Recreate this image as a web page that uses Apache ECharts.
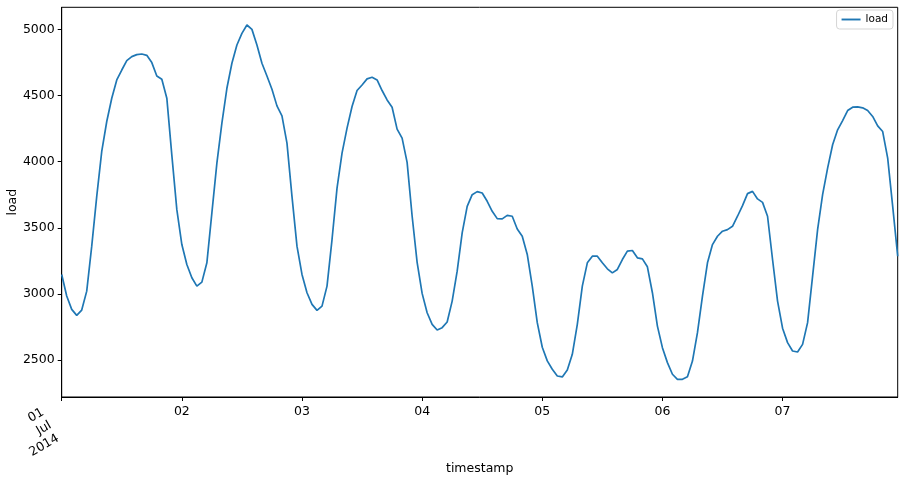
<!DOCTYPE html>
<html>
<head>
<meta charset="utf-8">
<script src="https://cdn.jsdelivr.net/npm/echarts@6/dist/echarts.min.js"></script>
<style>html,body{margin:0;padding:0;background:#fff}#c{width:905px;height:482px}</style>
</head>
<body>
<div id="c"></div>
<script>
// Hourly load, 01 Jul 2014 00:00 .. 07 Jul 2014 23:00
const day1 = [3148,2985,2884,2839,2879,3022,3362,3738,4078,4304,4480,4618,4693,4764,4794,4809,4814,4804,4749,4648,4623,4480,4050,3638];
const day2 = [3374,3223,3123,3060,3090,3236,3613,3990,4291,4555,4744,4882,4970,5033,5000,4882,4744,4648,4548,4422,4347,4141,3738,3362];
const day3 = [3148,3010,2922,2877,2909,3060,3412,3801,4065,4254,4417,4538,4580,4626,4638,4618,4538,4467,4412,4246,4178,3995,3590,3240];
const day4 = [3005,2859,2771,2728,2746,2789,2947,3173,3462,3663,3751,3774,3764,3701,3625,3570,3568,3595,3588,3492,3437,3299,3060,2784];
const day5 = [2598,2495,2432,2381,2374,2427,2545,2771,3060,3236,3286,3286,3236,3191,3160,3186,3261,3324,3329,3274,3266,3206,3010,2758];
const day6 = [2595,2482,2394,2356,2356,2376,2494,2708,2985,3236,3374,3437,3475,3487,3512,3588,3668,3759,3776,3719,3693,3588,3261,2947];
const day7 = [2742,2633,2570,2562,2620,2784,3135,3487,3751,3952,4128,4241,4311,4387,4412,4414,4407,4387,4342,4271,4228,4027,3663,3286];
const dayTickLabels = ['01\nJul\n2014','02','03','04','05','06','07'];
const dayTickHours = [0,24,48,72,96,120,144];
const yTicks = [2500,3000,3500,4000,4500,5000];

const load = [].concat(day1, day2, day3, day4, day5, day6, day7);
const points = load.map((v, i) => [i, v]);
const lo = Math.min(...load), hi = Math.max(...load), pad = (hi - lo) * 0.05;

const font = 'DejaVu Sans';
const chart = echarts.init(document.getElementById('c'), null, {renderer: 'canvas'});
chart.setOption({
  animation: false,
  textStyle: {fontFamily: font},
  grid: {left: 61.7, right: 7.3, top: 7.3, bottom: 85, containLabel: false, outerBoundsMode: 'none',
         show: true, borderColor: '#000', borderWidth: 1, backgroundColor: 'transparent'},
  legend: {
    right: 12, top: 10, data: ['load'],
    icon: 'path://M0,0 L20,0 L20,2 L0,2 Z',
    itemWidth: 19, itemHeight: 2,
    borderColor: '#d5d5d5', borderWidth: 1, borderRadius: 3, padding: [4, 5, 4, 5],
    textStyle: {fontFamily: font, fontSize: 10.5, color: '#000'}
  },
  xAxis: [{
    type: 'value', min: 0, max: load.length - 1,
    name: 'timestamp', nameLocation: 'middle', nameGap: 65, nameMoveOverlap: false,
    nameTextStyle: {fontFamily: font, fontSize: 12.5, color: '#000'},
    axisLine: {show: true, lineStyle: {color: '#000', width: 1}},
    axisTick: {show: true, length: 4, lineStyle: {color: '#000'}, customValues: dayTickHours},
    axisLabel: {
      color: '#000', fontFamily: font, fontSize: 12.5, margin: 8, customValues: dayTickHours.slice(1),
      formatter: v => dayTickLabels[dayTickHours.indexOf(v)]
    },
    splitLine: {show: false}
  }, {
    type: 'value', min: 0, max: load.length - 1, position: 'bottom',
    axisLine: {show: false}, axisTick: {show: false}, splitLine: {show: false},
    axisLabel: {
      color: '#000', fontFamily: font, fontSize: 12.5, margin: -5, rotate: 30, lineHeight: 15,
      align: 'right', verticalAlign: 'top', padding: [0, 26, 0, 0],
      customValues: [dayTickHours[0]],
      formatter: () => dayTickLabels[0]
    }
  }],
  yAxis: {
    type: 'value', min: lo - pad, max: hi + pad,
    name: 'load', nameLocation: 'middle', nameGap: 42, nameMoveOverlap: false,
    nameTextStyle: {fontFamily: font, fontSize: 12.5, color: '#000'},
    axisLine: {show: true, lineStyle: {color: '#000', width: 1}},
    axisTick: {show: true, length: 4, lineStyle: {color: '#000'}, customValues: yTicks},
    axisLabel: {color: '#000', fontFamily: font, fontSize: 12.5, margin: 7, customValues: yTicks,
                formatter: v => String(v)},
    splitLine: {show: false}
  },
  series: [{
    name: 'load', type: 'line', data: points, showSymbol: false, symbol: 'none',
    lineStyle: {color: '#1f77b4', width: 1.7}, itemStyle: {color: '#1f77b4'}
  }]
});
</script>
</body>
</html>
